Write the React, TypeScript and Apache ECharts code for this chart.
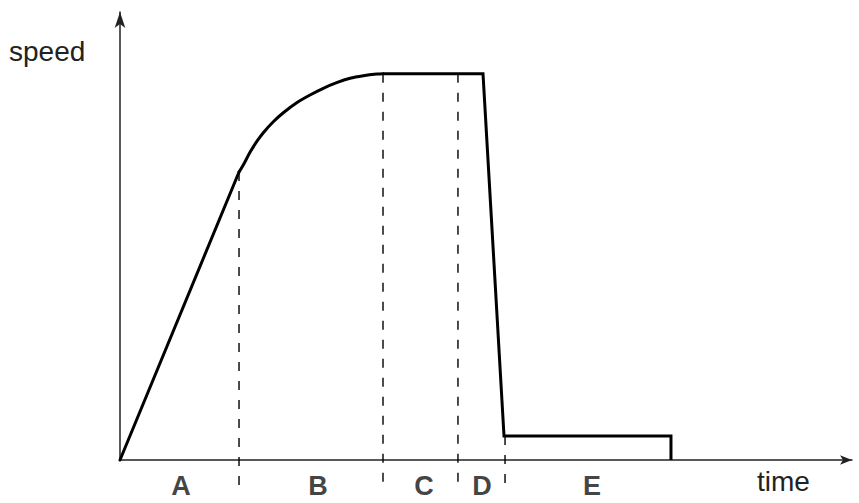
import React, { useEffect, useRef } from "react";
import * as echarts from "echarts";

// speed profile (arbitrary units, x: time 0..100, y: speed 0..100)
// phase A: linear acceleration
const rampX = [0, 16.26];
const rampY = [0, 64.29];
// phase B: curved approach to top speed
const curveX = [16.26, 16.84, 17.76, 18.67, 19.58, 20.94, 22.31, 24.14, 25.96, 27.77, 29.6, 31.42, 33.24, 35.07, 35.93];
const curveY = [64.29, 65.85, 68.68, 71.05, 73.06, 75.51, 77.52, 79.75, 81.47, 82.97, 84.22, 85.2, 85.78, 86.16, 86.23];
// phases C, D, E
const restX = [35.93, 49.59, 52.46, 75.27, 75.27];
const restY = [86.23, 86.23, 5.36, 5.36, 0];

// phase boundaries (dashed lines)
const boundaryX = [16.26, 35.93, 46.17, 52.6];
const boundaryTop = [64.29, 86.23, 86.23, 5.36];
const boundaryBottom = -5.6;

// phase labels
const phaseNames = ["A", "B", "C", "D", "E"];
const phaseX = [8.33, 27.05, 41.53, 49.45, 64.48];
const phaseY = -5.8;

const FONT = "'Liberation Sans', Arial, Helvetica, sans-serif";

export default function App() {
  const ref = useRef<HTMLDivElement>(null);
  useEffect(() => {
    if (!ref.current) return;
    const chart = echarts.init(ref.current, undefined, { renderer: "svg" });
    const dashed = boundaryX.map((x, i) => ({
      type: "line",
      data: [[x, boundaryTop[i]], [x, boundaryBottom]],
      symbol: "none",
      clip: false,
      silent: true,
      lineStyle: { color: "#000", width: 1.4, type: [9, 10] },
      z: 1,
    }));
    const solid = {
      symbol: "none",
      clip: false,
      silent: true,
      lineStyle: { color: "#000", width: 3, join: "round", cap: "round" },
      z: 3,
    };
    chart.setOption({
      animation: false,
      grid: { left: 120, right: 7, top: 12, bottom: 43 },
      xAxis: {
        type: "value",
        min: 0,
        max: 100,
        axisLine: {
          show: true,
          symbol: ["none", "arrow"],
          symbolSize: [7, 12],
          lineStyle: { color: "#222", width: 1.5 },
        },
        axisTick: { show: false },
        axisLabel: { show: false },
        splitLine: { show: false },
      },
      yAxis: {
        type: "value",
        min: 0,
        max: 100,
        axisLine: {
          show: true,
          symbol: ["none", "arrow"],
          symbolSize: [8, 16],
          lineStyle: { color: "#222", width: 1.5 },
        },
        axisTick: { show: false },
        axisLabel: { show: false },
        splitLine: { show: false },
      },
      graphic: [
        {
          type: "text",
          left: 9,
          top: 37,
          style: { text: "speed", font: `28px ${FONT}`, fill: "#222" },
        },
        {
          type: "text",
          left: 757,
          top: 467,
          style: { text: "time", font: `28px ${FONT}`, fill: "#222" },
        },
      ],
      series: [
        { type: "line", data: rampX.map((x, i) => [x, rampY[i]]), ...solid },
        { type: "line", data: curveX.map((x, i) => [x, curveY[i]]), smooth: 0.3, ...solid },
        { type: "line", data: restX.map((x, i) => [x, restY[i]]), ...solid, lineStyle: { color: "#000", width: 3, join: "miter" } },
        ...dashed,
        {
          type: "scatter",
          data: phaseX.map((x, i) => [x, phaseY, phaseNames[i]]),
          symbolSize: 0,
          clip: false,
          silent: true,
          itemStyle: { color: "#111" },
          label: {
            show: true,
            position: "inside",
            formatter: (p: any) => p.data[2],
            color: "#111",
            textBorderWidth: 0,
            fontFamily: FONT,
            fontWeight: "bold",
            fontSize: 27,
          },
        },
      ],
    });
    return () => chart.dispose();
  }, []);
  return (
    <div
      ref={ref}
      style={{ position: "fixed", left: 0, top: 0, width: 859, height: 503, background: "#fff" }}
    />
  );
}
